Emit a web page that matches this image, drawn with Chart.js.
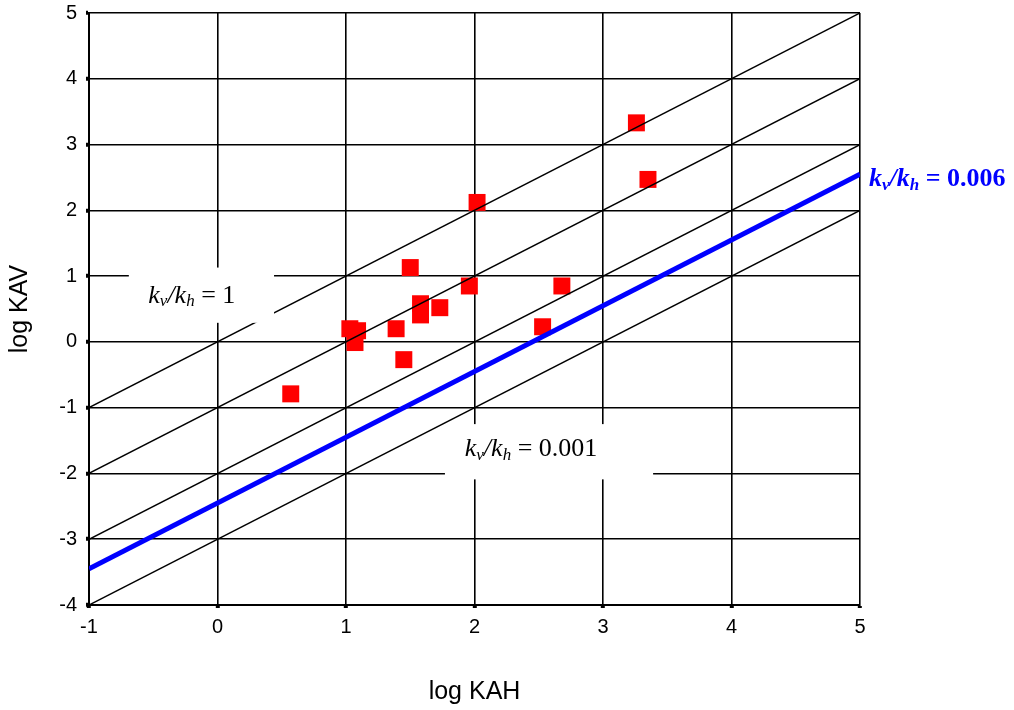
<!DOCTYPE html>
<html>
<head>
<meta charset="utf-8">
<script src="https://cdn.jsdelivr.net/npm/chart.js@4.4.1/dist/chart.umd.min.js"></script>
<style>
  html, body { margin: 0; padding: 0; background: #fff; }
  #wrap { width: 1014px; height: 710px; position: relative; }
</style>
</head>
<body>
<div id="wrap"><canvas id="chart"></canvas></div>
<script>
// measured points (log KAH, log KAV)
const logKAH = [0.57, 1.03, 1.09, 1.07, 1.39, 1.45, 1.50, 1.58, 1.58, 1.73, 1.96, 2.02, 2.53, 2.68, 3.26, 3.35];
const logKAV = [-0.79, 0.20, 0.17, -0.01, 0.20, -0.27, 1.13, 0.58, 0.41, 0.52, 0.85, 2.12, 0.23, 0.85, 3.33, 2.47];

// reference lines kv/kh, endpoints at x = -1 and x = 5
const lineX = [-1, 5];
const blackLinesY = [
    [-1, 5],
    [-2, 4],
    [-3, 3],
    [-4, 2]
];
const blueLineY = [-3.45, 2.55];

const xTicks = [-1, 0, 1, 2, 3, 4, 5];
const yTicks = [-4, -3, -2, -1, 0, 1, 2, 3, 4, 5];

const pts = (xs, ys) => xs.map((x, i) => ({ x: x, y: ys[i] }));

const datasets = [];
blackLinesY.forEach(ys => {
    datasets.push({
        type: 'line', data: pts(lineX, ys),
        borderColor: '#000', borderWidth: 1.5, pointRadius: 0, fill: false
    });
});
datasets.push({
    type: 'line', data: pts(lineX, blueLineY),
    borderColor: '#0000ff', borderWidth: 5, pointRadius: 0, fill: false
});
datasets.push({
    type: 'scatter', data: pts(logKAH, logKAV),
    backgroundColor: '#ff0000', borderColor: '#ff0000', borderWidth: 0,
    pointStyle: 'rect', pointRadius: 12, pointHoverRadius: 12
});

// kv/kh labels with a white box behind them
function drawRatio(ctx, cx, cy, value, opts) {
    const size = opts.size, sub = Math.round(size * 0.65);
    const w = opts.bold ? 'bold ' : '';
    const fam = '"Liberation Serif", "Times New Roman", serif';
    const parts = [
        { t: 'k', f: 'italic ' + w + size + 'px ' + fam, dy: 0 },
        { t: 'v', f: 'italic ' + w + sub + 'px ' + fam, dy: 6 },
        { t: '/', f: 'italic ' + w + size + 'px ' + fam, dy: 0 },
        { t: 'k', f: 'italic ' + w + size + 'px ' + fam, dy: 0 },
        { t: 'h', f: 'italic ' + w + sub + 'px ' + fam, dy: 6 },
        { t: ' = ' + value, f: w + size + 'px ' + fam, dy: 0 }
    ];
    let total = 0;
    parts.forEach(p => { ctx.font = p.f; p.w = ctx.measureText(p.t).width; total += p.w; });
    let x = opts.align === 'left' ? cx : cx - total / 2;
    ctx.fillStyle = opts.color;
    ctx.textBaseline = 'middle';
    ctx.textAlign = 'left';
    parts.forEach(p => {
        ctx.font = p.f;
        ctx.fillText(p.t, x, cy + p.dy);
        x += p.w;
    });
}

const labelsPlugin = {
    id: 'ratioLabels',
    afterDatasetsDraw(chart) {
        const ctx = chart.ctx, xs = chart.scales.x, ys = chart.scales.y;
        ctx.save();
        // white boxes (data coordinates)
        const boxes = [[-0.69, 1.13, 0.44, 0.29], [1.77, -1.25, 3.39, -2.09]];
        ctx.fillStyle = '#fff';
        boxes.forEach(b => {
            const x1 = xs.getPixelForValue(b[0]), y1 = ys.getPixelForValue(b[1]);
            const x2 = xs.getPixelForValue(b[2]), y2 = ys.getPixelForValue(b[3]);
            ctx.fillRect(x1, y1, x2 - x1, y2 - y1);
        });
        drawRatio(ctx, xs.getPixelForValue(-0.2), ys.getPixelForValue(0.7), '1',
            { size: 26, color: '#000' });
        drawRatio(ctx, xs.getPixelForValue(2.44), ys.getPixelForValue(-1.63), '0.001',
            { size: 26, color: '#000' });
        drawRatio(ctx, chart.chartArea.right + 9, ys.getPixelForValue(2.47), '0.006',
            { size: 26, color: '#0000ff', bold: true, align: 'left' });
        ctx.restore();
    }
};

const tickFont = { family: 'Arial, "Liberation Sans", sans-serif', size: 20 };
const titleFont = { family: 'Arial, "Liberation Sans", sans-serif', size: 25 };

new Chart(document.getElementById('chart'), {
    type: 'scatter',
    data: { datasets: datasets },
    options: {
        responsive: true,
        maintainAspectRatio: false,
        animation: false,
        layout: { padding: { top: 13, right: 154, left: 0, bottom: 0 } },
        plugins: { legend: { display: false }, tooltip: { enabled: false } },
        scales: {
            x: {
                type: 'linear', min: -1, max: 5,
                afterBuildTicks: s => { s.ticks = xTicks.map(v => ({ value: v })); },
                afterFit: s => { s.height = 105; s.paddingLeft = 0; s.paddingRight = 0; },
                ticks: { color: '#000', font: tickFont, padding: 7 },
                grid: { color: '#000', lineWidth: 1.6, tickColor: '#000', tickLength: 3, tickWidth: 4 },
                border: { color: '#000', width: 2 },
                title: { display: true, text: 'log KAH', color: '#000', font: titleFont, padding: { top: 0, bottom: 3 } }
            },
            y: {
                type: 'linear', min: -4, max: 5,
                afterBuildTicks: s => { s.ticks = yTicks.map(v => ({ value: v })); },
                afterFit: s => { s.width = 89; s.paddingTop = 0; s.paddingBottom = 0; },
                ticks: { color: '#000', font: tickFont, padding: 9 },
                grid: { color: '#000', lineWidth: 1.6, tickColor: '#000', tickLength: 3, tickWidth: 4 },
                border: { color: '#000', width: 2 },
                title: { display: true, text: 'log KAV', color: '#000', font: titleFont, padding: { top: 5, bottom: 0 } }
            }
        }
    },
    plugins: [labelsPlugin]
});
</script>
</body>
</html>
